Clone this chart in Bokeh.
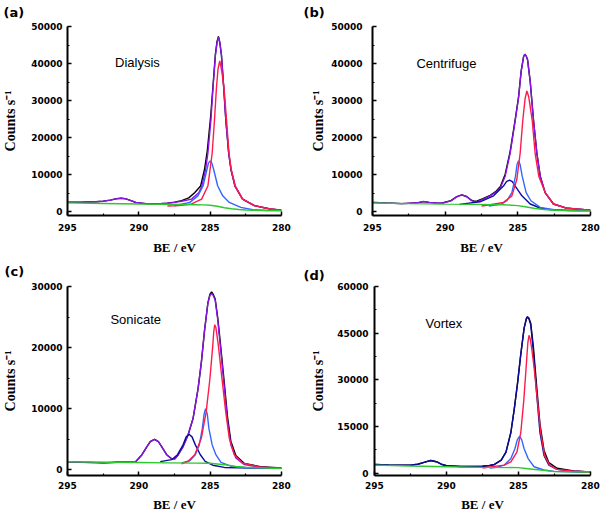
from bokeh.plotting import figure
from bokeh.models import Range1d, FixedTicker, Label, Title
from bokeh.layouts import column, row
from bokeh.embed import file_html
from bokeh.resources import INLINE

# ---------------- data (binding energy in eV, intensity in counts/s) ----------------
# (a) Dialysis
a_env_be = [295, 294, 293, 292.5, 292, 291.6, 291.25, 290.9, 290.5, 290.2, 289.5, 289, 288.5, 288, 287.5, 287,
            286.3, 285.8, 285.58, 285.32, 285.16, 284.95, 284.8, 284.63, 284.52, 284.42, 284.32, 284.21, 284.05,
            283.9, 283.7, 283.54, 283.26, 282.73, 281.9, 280.8, 280]
a_env_cps = [2480, 2550, 2650, 2800, 3100, 3450, 3630, 3450, 2900, 2450, 2150, 2100, 2150, 2250, 2500, 2800,
             3360, 5100, 6900, 11300, 15750, 24600, 33450, 42300, 45600, 47200, 45600, 42300, 33450,
             24600, 15750, 11300, 6900, 3360, 1600, 700, 350]
a_raw_be = [295, 294, 293, 292.5, 292, 291.6, 291.25, 290.9, 290.5, 290.2, 289.5, 289, 288.5, 288, 287.5, 287,
            286.5, 286.09, 285.67, 285.4, 285.2, 284.97, 284.8, 284.63, 284.52, 284.42, 284.32, 284.21, 284.05,
            283.9, 283.7, 283.54, 283.26, 282.73, 281.9, 280.8, 280]
a_raw_cps = [2500, 2560, 2660, 2820, 3080, 3420, 3600, 3430, 2880, 2430, 2140, 2090, 2150, 2280, 2560, 2950,
             3700, 5100, 6900, 11300, 16500, 25500, 34000, 42600, 45900, 47300, 45600, 42300, 33450,
             24600, 15750, 11300, 6900, 3360, 1600, 700, 350]
a_red_be = [288, 287.2, 286.3, 285.6, 285.16, 284.86, 284.7, 284.56, 284.45, 284.33, 284.2, 284.03, 283.85,
            283.68, 283.52, 283.24, 282.72, 281.9, 280.8, 280]
a_red_cps = [1500, 1600, 2050, 3360, 6900, 15750, 24600, 33450, 38500, 40700, 38300, 33450, 24600,
             15750, 11300, 6900, 3360, 1600, 700, 350]
a_blue_be = [287.5, 286.43, 285.86, 285.5, 285.23, 285.12, 285.0, 284.88, 284.75, 284.47, 284.12, 283.66,
             282.85, 282, 281, 280]
a_blue_cps = [1590, 2480, 4250, 6900, 11300, 13100, 13700, 13100, 11300, 6900, 4250, 2480, 1150, 500, 300, 250]
a_bg_be = [295, 292.5, 290, 288, 287, 286, 285.5, 285, 284.5, 284, 283.5, 283, 282.5, 282, 281, 280]
a_bg_cps = [2350, 2200, 2050, 1980, 1920, 1850, 1800, 1700, 1450, 1050, 750, 560, 440, 360, 290, 265]

# (b) Centrifuge
b_env_be = [295, 294, 293, 292, 291.5, 291.1, 290.5, 290.2, 289.6, 289.2, 288.85, 288.5, 288.2, 288.0, 287.8,
            287.4, 286.9, 286.5, 286.2, 285.87, 285.53, 285.18, 284.95, 284.77, 284.6, 284.52, 284.42, 284.33,
            284.15, 283.92, 283.69, 283.46, 283.12, 282.55, 281.6, 280]
b_env_cps = [2480, 2300, 2150, 2300, 2740, 2500, 2250, 2300, 2900, 4000, 4500, 4000, 3000, 2650, 2700,
             3300, 4250, 5300, 6460, 9560, 15750, 24600, 30800, 37900, 41900, 42500, 42000, 41000,
             35200, 24600, 15750, 9560, 5130, 2040, 885, 350]
b_raw_cps = [2480, 2300, 2150, 2300, 2700, 2480, 2250, 2320, 2950, 4050, 4520, 4000, 3050, 2800, 2900,
             3500, 4400, 5500, 6800, 10100, 16200, 24900, 31000, 38000, 41900, 42500, 42000, 41000,
             35200, 24600, 15750, 9560, 5130, 2040, 885, 350]
b_red_be = [287.5, 286.9, 285.99, 285.41, 285.07, 284.84, 284.66, 284.5, 284.38, 284.25, 284.01, 283.81,
            283.56, 283.12, 282.55, 281.6, 280]
b_red_cps = [1500, 1860, 2480, 4250, 8670, 15750, 24600, 30500, 32570, 31000, 24600, 15750,
             9560, 5130, 2040, 885, 350]
b_blue_be = [287, 286.1, 285.76, 285.41, 285.16, 285.05, 284.95, 284.85, 284.7, 284.43, 284.1, 283.46,
             282.5, 281, 280]
b_blue_cps = [1500, 2040, 2920, 5130, 9560, 12800, 13700, 12800, 9560, 5130, 2920, 1150, 500, 300, 250]
b_navy_be = [289, 288.5, 287.6, 286.67, 285.99, 285.78, 285.57, 285.38, 285.18, 284.72, 284.15, 283.46,
             282.78, 281.5, 280]
b_navy_cps = [1900, 2210, 2650, 4250, 6900, 8100, 8500, 8100, 6900, 4250, 2040, 970, 530, 300, 250]
b_bg_be = [295, 292.5, 290, 288, 286, 285, 284.5, 283.9, 283.2, 282.5, 281, 280]
b_bg_cps = [2300, 2150, 2020, 1950, 1850, 1600, 1300, 900, 550, 350, 220, 180]

# (c) Sonicate
c_env_be = [295, 294, 293, 292.5, 291.5, 290.9, 290.24, 289.78, 289.43, 289.2, 288.9, 288.63, 288.4, 288.05,
            287.7, 287.47, 287.24, 286.9, 286.55, 286.2, 285.85, 285.62, 285.39, 285.16, 285.02, 284.9, 284.78,
            284.65, 284.47, 284.24, 284.0, 283.78, 283.55, 283.2, 282.6, 281.47, 280]
c_env_cps = [1340, 1250, 1180, 1150, 1250, 1240, 1290, 2480, 3820, 4630, 5000, 4630, 3820, 2480,
             1830, 1830, 2480, 3820, 5700, 8400, 13250, 17550, 22900, 27250, 28500, 28860, 28500,
             27800, 24560, 19170, 13250, 7860, 4090, 1940, 860, 430, 270]
c_raw_cps = [1340, 1250, 1180, 1150, 1250, 1240, 1290, 2480, 3820, 4630, 5000, 4630, 3820, 2480,
             1830, 1830, 2480, 3820, 5700, 8400, 13250, 17550, 22900, 27300, 28700, 29130, 28700,
             28000, 24900, 19700, 14000, 8600, 4700, 2350, 1050, 520, 330]
c_red_be = [287, 286.55, 286.08, 285.62, 285.28, 285.02, 284.82, 284.75, 284.68, 284.6, 284.55, 284.42,
            284.17, 283.91, 283.66, 283.31, 282.74, 281.5, 280]
c_red_cps = [1000, 1400, 2480, 5170, 9480, 14860, 20250, 22600, 23750, 23300, 22500, 20250,
             14860, 9480, 5170, 2480, 1130, 430, 270]
c_blue_be = [287, 286.43, 286.04, 285.76, 285.55, 285.42, 285.32, 285.2, 285.09, 284.86, 284.6, 284.24,
             283.55, 282.5, 280]
c_blue_cps = [1150, 1500, 2480, 4090, 6780, 9200, 10000, 9100, 6780, 4090, 2480, 1240, 600, 350, 250]
c_navy_be = [288.5, 287.7, 287.29, 286.9, 286.68, 286.48, 286.27, 286.04, 285.69, 285.35, 284.82, 284,
             282, 280]
c_navy_cps = [1350, 1670, 2480, 4090, 5400, 5820, 5400, 4090, 2480, 1400, 760, 400, 280, 250]
c_bg_be = [295, 292, 290, 288, 286, 285, 284, 283.2, 282.5, 281, 280]
c_bg_cps = [1340, 1250, 1200, 1150, 1100, 1080, 850, 550, 430, 280, 215]

# (d) Vortex
d_env_be = [295, 294, 293, 292.5, 292, 291.5, 291.1, 290.7, 290.3, 290, 289, 288, 287.5, 287, 286.67,
            286.2, 285.87, 285.53, 285.3, 285.07, 284.84, 284.61, 284.45, 284.38, 284.28, 284.15, 283.97,
            283.74, 283.51, 283.23, 282.89, 282.32, 281.17, 280]
d_env_cps = [2830, 2650, 2550, 2600, 2900, 3600, 4090, 3700, 2800, 2400, 2150, 2150, 2250, 2500, 2830,
             4190, 6810, 13100, 20440, 28820, 38250, 46630, 49600, 50100, 49600, 47690, 39300,
             25680, 13100, 5760, 2620, 1260, 630, 420]
d_raw_cps = [2830, 2650, 2550, 2600, 2900, 3600, 4090, 3700, 2800, 2400, 2150, 2150, 2250, 2500, 2830,
             4190, 6810, 13100, 20440, 28820, 38250, 46630, 49800, 50300, 49900, 48200, 40800,
             28000, 15800, 7400, 3400, 1600, 760, 460]
d_red_be = [287.5, 285.99, 285.53, 285.11, 284.84, 284.63, 284.47, 284.35, 284.27, 284.18, 284.08, 283.92,
            283.69, 283.46, 283.19, 282.84, 282.32, 281.17, 280]
d_red_cps = [1700, 2620, 3670, 6810, 13100, 23580, 34060, 42000, 44330, 43000, 40000, 34060,
             23580, 13100, 5760, 2620, 1260, 630, 420]
d_blue_be = [287, 286.5, 285.99, 285.53, 285.25, 285.08, 284.93, 284.78, 284.61, 284.33, 283.92, 283.23,
             282.5, 281, 280]
d_blue_cps = [1700, 1900, 2620, 4710, 7860, 10800, 11840, 10800, 7860, 4710, 2100, 1050, 600, 400, 350]
d_bg_be = [295, 292.5, 290, 287.5, 285, 284.5, 284, 283.46, 282.5, 281, 280]
d_bg_cps = [2620, 2350, 2100, 1900, 1800, 1550, 1300, 1050, 520, 450, 420]

# axis ticks
x_ticks = [295, 290, 285, 280]
x_minor = [292.5, 287.5, 282.5]
y_ticks_50k = [0, 10000, 20000, 30000, 40000, 50000]
y_minor_50k = [5000, 15000, 25000, 35000, 45000]
y_ticks_30k = [0, 10000, 20000, 30000]
y_minor_30k = [5000, 15000, 25000]
y_ticks_60k = [0, 15000, 30000, 45000, 60000]
y_minor_60k = [7500, 22500, 37500, 52500]

panel_tags = ["(a)", "(b)", "(c)", "(d)"]
panel_names = ["Dialysis", "Centrifuge", "Sonicate", "Vortex"]
name_be = [291.67, 291.98, 291.99, 291.46]
name_cps = [40260, 39900, 24670, 48100]

C_RAW = "#000000"
C_ENV = "#8A14E6"
C_RED = "#FF1A4B"
C_BLUE = "#3366FF"
C_NAVY = "#0B0B9E"
C_BG = "#2DC82D"

TICK_FONT = "DejaVu Sans"
SERIF = "Liberation Serif"


def make_panel(L, curves, tag, name, nbe, ncps, yticks, yminor):
    p = figure(width=L["w"], height=L["h"],
               x_range=Range1d(295, 280), y_range=Range1d(L["ymin"], L["ymax"]),
               output_backend="svg", toolbar_location=None,
               min_border_left=L["bl"], min_border_right=L["br"],
               min_border_top=L["bt"], min_border_bottom=L["bb"])
    p.grid.visible = False
    p.outline_line_color = None
    p.background_fill_color = "white"
    p.border_fill_color = "white"

    # panel tag as the plot title, pulled left over the axis area
    p.title = Title(text=tag, align="left", offset=L["tag_off"], standoff=L["tag_std"],
                    vertical_align="top", text_font=TICK_FONT, text_font_style="bold",
                    text_font_size="13px", text_color="black")

    for be, cps, col in curves:
        p.line(be, cps, line_color=col, line_width=1.4)

    for ax in (p.xaxis[0], p.yaxis[0]):
        ax.axis_line_width = 2
        ax.axis_line_color = "black"
        ax.major_tick_in = 4
        ax.major_tick_out = 0
        ax.minor_tick_in = 2
        ax.minor_tick_out = 0
        ax.major_tick_line_width = 1.5
        ax.minor_tick_line_width = 1.2
        ax.major_label_text_font = TICK_FONT
        ax.major_label_text_font_style = "bold"
        ax.major_label_text_font_size = "9px"
        ax.major_label_text_color = "black"

    p.xaxis.ticker = FixedTicker(ticks=x_ticks, minor_ticks=x_minor)
    p.xaxis.major_label_overrides = {t: str(t) for t in x_ticks}
    p.xaxis.major_label_standoff = L["xlstd"]
    p.xaxis.axis_label = "BE / eV"
    p.xaxis.axis_label_text_font = SERIF
    p.xaxis.axis_label_text_font_style = "bold"
    p.xaxis.axis_label_text_font_size = "13px"
    p.xaxis.axis_label_text_color = "black"
    p.xaxis.axis_label_standoff = L["xastd"]

    p.yaxis.ticker = FixedTicker(ticks=yticks, minor_ticks=yminor)
    p.yaxis.major_label_overrides = {t: str(t) for t in yticks}
    p.yaxis.major_label_standoff = L["lstd"]
    p.yaxis.axis_label = "Counts s\u207b\u00b9"
    p.yaxis.axis_label_text_font = SERIF
    p.yaxis.axis_label_text_font_style = "bold"
    p.yaxis.axis_label_text_font_size = "14px"
    p.yaxis.axis_label_text_color = "black"
    p.yaxis.axis_label_standoff = L["astd"]

    # sample name inside the plot area
    p.add_layout(Label(x=nbe, y=ncps, text=name, text_align="left", text_baseline="middle",
                       text_font="Liberation Sans", text_font_size="13px", text_color="black"))
    return p


LA = dict(w=300, h=257, bl=65, br=19, bt=24, bb=40, ymin=-1060, ymax=50000, lstd=5, astd=10,
          xlstd=8, xastd=6, tag_off=-64, tag_std=9)
LB = dict(w=301, h=257, bl=72, br=11, bt=24, bb=40, ymin=-1060, ymax=50000, lstd=10, astd=2,
          xlstd=8, xastd=6, tag_off=-69, tag_std=9)
LC = dict(w=300, h=257, bl=65, br=19, bt=29, bb=36, ymin=-920, ymax=30000, lstd=5, astd=10,
          xlstd=6, xastd=5, tag_off=-63, tag_std=12)
LD = dict(w=301, h=257, bl=74, br=11, bt=27, bb=37, ymin=-720, ymax=60000, lstd=6, astd=8,
          xlstd=6, xastd=5, tag_off=-71, tag_std=4)

pa = make_panel(LA, [(a_raw_be, a_raw_cps, C_RAW), (a_env_be, a_env_cps, C_ENV),
                     (a_blue_be, a_blue_cps, C_BLUE), (a_red_be, a_red_cps, C_RED),
                     (a_bg_be, a_bg_cps, C_BG)],
                panel_tags[0], panel_names[0], name_be[0], name_cps[0], y_ticks_50k, y_minor_50k)
pb = make_panel(LB, [(b_env_be, b_raw_cps, C_RAW), (b_env_be, b_env_cps, C_ENV),
                     (b_navy_be, b_navy_cps, C_NAVY), (b_blue_be, b_blue_cps, C_BLUE),
                     (b_red_be, b_red_cps, C_RED), (b_bg_be, b_bg_cps, C_BG)],
                panel_tags[1], panel_names[1], name_be[1], name_cps[1], y_ticks_50k, y_minor_50k)
pc = make_panel(LC, [(c_env_be, c_raw_cps, C_RAW), (c_env_be, c_env_cps, C_ENV),
                     (c_navy_be, c_navy_cps, C_NAVY), (c_blue_be, c_blue_cps, C_BLUE),
                     (c_red_be, c_red_cps, C_RED), (c_bg_be, c_bg_cps, C_BG)],
                panel_tags[2], panel_names[2], name_be[2], name_cps[2], y_ticks_30k, y_minor_30k)
pd_ = make_panel(LD, [(d_env_be, d_raw_cps, C_RAW), (d_env_be, d_env_cps, C_NAVY),
                      (d_blue_be, d_blue_cps, C_BLUE), (d_red_be, d_red_cps, C_RED),
                      (d_bg_be, d_bg_cps, C_BG)],
                 panel_tags[3], panel_names[3], name_be[3], name_cps[3], y_ticks_60k, y_minor_60k)

layout = column(row(pa, pb), row(pc, pd_))

open("out.html", "w").write(file_html(layout, INLINE))
